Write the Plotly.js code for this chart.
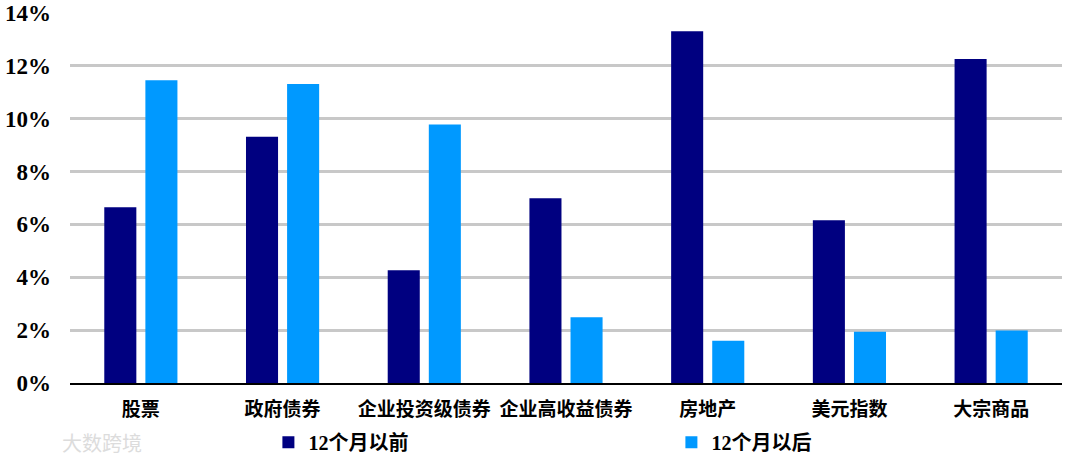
<!DOCTYPE html>
<html><head><meta charset="utf-8">
<script src="https://cdn.plot.ly/plotly-3.0.1.min.js"></script>
<style>body{margin:0;background:#fff}#c{width:1080px;height:459px}</style>
</head><body><div id="c"></div>
<script>
const categories = ["股票","政府债券","企业投资级债券","企业高收益债券","房地产","美元指数","大宗商品"];
const before12m = [6.65, 9.32, 4.27, 6.99, 13.31, 6.16, 12.26];
const after12m  = [11.46, 11.31, 9.78, 2.49, 1.60, 1.94, 1.99];
const seriesNames = ["12个月以前","12个月以后"];
const yTicks = [0,2,4,6,8,10,12,14];

const FONT = "Liberation Serif, Noto Sans CJK SC, serif";
const traces = [
  {type:"bar", name:seriesNames[0], x:categories, y:before12m, marker:{color:"#000080"}},
  {type:"bar", name:seriesNames[1], x:categories, y:after12m, marker:{color:"#0099FF"}}
];
const layout = {
  width:1080, height:459,
  margin:{l:70, r:18, t:13, b:76, autoexpand:false},
  paper_bgcolor:"#fff", plot_bgcolor:"#fff",
  barmode:"group", bargap:0.42, bargroupgap:0.22,
  showlegend:true,
  legend:{orientation:"h", x:0.200, xanchor:"left", y:-0.16, yanchor:"middle",
    entrywidth:358, entrywidthmode:"pixels", itemwidth:30, tracegroupgap:0,
    font:{family:FONT, size:20, color:"#000", weight:"bold"}},
  xaxis:{showline:true, linecolor:"#000", linewidth:2, showgrid:false, ticks:"",
    ticklabelstandoff:8, tickangle:0,
    tickfont:{family:FONT, size:19, color:"#000", weight:"bold"}},
  yaxis:{range:[0,14], tickvals:yTicks, ticktext:yTicks.map(v=>v+"%"),
    showgrid:true, gridcolor:"#c8c8c8", gridwidth:3, zeroline:false, showline:false,
    ticks:"", ticklabelstandoff:18,
    tickfont:{family:FONT, size:23, color:"#000", weight:"bold"}},
  annotations:[{text:"大数跨境", xref:"paper", yref:"paper", x:-0.01, y:-0.16, xanchor:"left", yanchor:"middle",
    showarrow:false, font:{family:"Noto Sans CJK SC", size:20, color:"#dcdcdc"}}]
};
Plotly.newPlot("c", traces, layout, {displayModeBar:false, staticPlot:true});
</script></body></html>
